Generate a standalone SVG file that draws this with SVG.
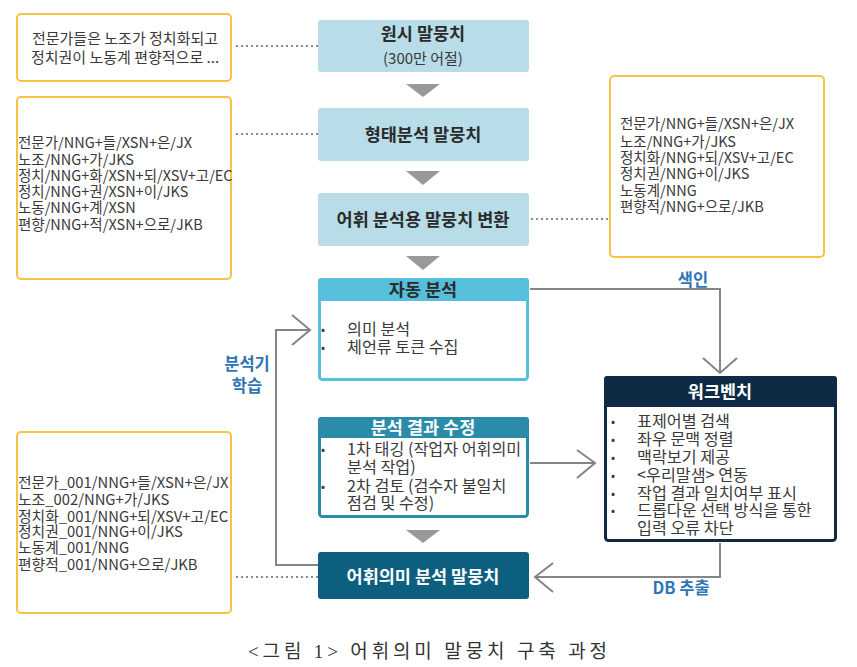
<svg xmlns="http://www.w3.org/2000/svg" width="857" height="667" viewBox="0 0 857 667">
<defs>
<style>
.t{font-family:"Noto Sans CJK KR","Noto Sans",sans-serif;fill:#3a3a3a}
.note{font-size:14.5px}
.note3{font-size:14.8px}
.top{font-size:15px}
.title{font-size:17.5px;font-weight:bold;fill:#2b2b2b}
.wt{font-size:17.5px;font-weight:bold;fill:#ffffff}
.body{font-size:16.2px}
.bul{font-size:12px}
.lbl{font-family:"Noto Sans CJK KR","Noto Sans",sans-serif;font-size:16.5px;font-weight:bold;fill:#2E75B6}
.obox{fill:#ffffff;stroke:#F8C246;stroke-width:2}
.lb{fill:#B8DDE8}
.tri{fill:#999999}
.dot{stroke:#8a8a8a;stroke-width:2;stroke-dasharray:2 3;fill:none}
.con{stroke:#858585;stroke-width:2;fill:none}
.cap{font-family:"Liberation Serif","Noto Sans CJK KR",serif;font-size:19px;fill:#333}
</style>
</defs>

<g id="connectors">
<line class="dot" x1="236" y1="46" x2="318" y2="46"/>
<line class="dot" x1="236" y1="134" x2="318" y2="134"/>
<line class="dot" x1="531" y1="219" x2="610" y2="219"/>
<line class="dot" x1="236" y1="577" x2="318" y2="577"/>
<polygon class="tri" points="406,84 440,84 423,97"/>
<polygon class="tri" points="406,171 440,171 423,185"/>
<polygon class="tri" points="406,256 440,256 423,270"/>
<polygon class="tri" points="406,530 440,530 423,543"/>
<polyline class="con" points="318,565 276,565 276,330 309,330"/>
<polyline class="con" points="292,315 310,330 292,345"/>
<polyline class="con" points="530,289 720,289 720,372"/>
<polyline class="con" points="703,358 720,373 737,358"/>
<line class="con" x1="530" y1="463" x2="595" y2="463"/>
<polyline class="con" points="577,450 595,463 577,478"/>
<polyline class="con" points="720,543 720,577 536,577"/>
<polyline class="con" points="553,563 535,577 553,592"/>
<text class="lbl" text-anchor="middle"><tspan x="247" y="370">분석기</tspan><tspan x="247" y="392">학습</tspan></text>
<text class="lbl" x="693" y="286" text-anchor="middle">색인</text>
<text class="lbl" x="681" y="594" text-anchor="middle">DB 추출</text>
</g>

<g id="note-raw">
<rect class="obox" x="17" y="14" width="214" height="67" rx="4"/>
<text class="t top" text-anchor="middle"><tspan x="125" y="44">전문가들은 노조가 정치화되고</tspan><tspan x="125" y="63">정치권이 노동계 편향적으로 ...</tspan></text>
</g>

<g id="note-morph">
<rect class="obox" x="17" y="97" width="214" height="182" rx="4"/>
<text class="t note"><tspan x="18" y="148">전문가/NNG+들/XSN+은/JX</tspan><tspan x="18" y="165">노조/NNG+가/JKS</tspan><tspan x="18" y="181">정치/NNG+화/XSN+되/XSV+고/EC</tspan><tspan x="18" y="197">정치/NNG+권/XSN+이/JKS</tspan><tspan x="18" y="213">노동/NNG+계/XSN</tspan><tspan x="18" y="230">편향/NNG+적/XSN+으로/JKB</tspan></text>
</g>

<g id="note-lex">
<rect class="obox" x="610" y="76" width="214" height="181" rx="4"/>
<text class="t note"><tspan x="620" y="129">전문가/NNG+들/XSN+은/JX</tspan><tspan x="620" y="147">노조/NNG+가/JKS</tspan><tspan x="620" y="163">정치화/NNG+되/XSV+고/EC</tspan><tspan x="620" y="179">정치권/NNG+이/JKS</tspan><tspan x="620" y="196">노동계/NNG</tspan><tspan x="620" y="212">편향적/NNG+으로/JKB</tspan></text>
</g>

<g id="note-sense">
<rect class="obox" x="17" y="432" width="214" height="181" rx="4"/>
<text class="t note3"><tspan x="18" y="488">전문가_001/NNG+들/XSN+은/JX</tspan><tspan x="18" y="505">노조_002/NNG+가/JKS</tspan><tspan x="18" y="522">정치화_001/NNG+되/XSV+고/EC</tspan><tspan x="18" y="537">정치권_001/NNG+이/JKS</tspan><tspan x="18" y="553">노동계_001/NNG</tspan><tspan x="18" y="570">편향적_001/NNG+으로/JKB</tspan></text>
</g>

<g id="raw-corpus">
<rect class="lb" x="318" y="20" width="211" height="52" rx="3"/>
<text class="t title" x="423" y="40" text-anchor="middle">원시 말뭉치</text>
<text class="t top" x="423" y="64" text-anchor="middle">(300만 어절)</text>
</g>

<g id="morph-corpus">
<rect class="lb" x="318" y="108" width="211" height="53" rx="3"/>
<text class="t title" x="423" y="141" text-anchor="middle">형태분석 말뭉치</text>
</g>

<g id="lex-convert">
<rect class="lb" x="318" y="193" width="211" height="53" rx="3"/>
<text class="t title" x="423" y="226" text-anchor="middle">어휘 분석용 말뭉치 변환</text>
</g>

<g id="auto-analysis">
<rect x="319.5" y="279.5" width="208" height="100" rx="3" fill="#ffffff" stroke="#56BFDB" stroke-width="3"/>
<rect x="318" y="278" width="211" height="23" rx="3" fill="#56BFDB"/>
<text class="t title" x="423" y="296" text-anchor="middle">자동 분석</text>
<text class="t bul"><tspan x="321" y="334">•</tspan><tspan x="321" y="352">•</tspan></text>
<text class="t body"><tspan x="347" y="335">의미 분석</tspan><tspan x="347" y="353">체언류 토큰 수집</tspan></text>
</g>

<g id="revise">
<rect x="319.5" y="418.5" width="208" height="98" rx="3" fill="#ffffff" stroke="#2A8CA8" stroke-width="3"/>
<rect x="318" y="417" width="211" height="21" rx="3" fill="#2A8CA8"/>
<text class="t wt" x="423" y="434" text-anchor="middle">분석 결과 수정</text>
<text class="t bul"><tspan x="321" y="454">•</tspan><tspan x="321" y="491">•</tspan></text>
<text class="t body"><tspan x="347" y="455">1차 태깅 (작업자 어휘의미</tspan><tspan x="347" y="473">분석 작업)</tspan><tspan x="347" y="492">2차 검토 (검수자 불일치</tspan><tspan x="347" y="509">점검 및 수정)</tspan></text>
</g>

<g id="sense-corpus">
<rect x="318" y="552" width="211" height="47" rx="3" fill="#0D5F80"/>
<text class="t wt" x="423" y="583" text-anchor="middle">어휘의미 분석 말뭉치</text>
</g>

<g id="workbench">
<rect x="605.5" y="377.5" width="230" height="163" rx="3" fill="#ffffff" stroke="#0E2A44" stroke-width="3"/>
<rect x="604" y="376" width="233" height="31" rx="3" fill="#0E2A44"/>
<text class="t wt" x="720" y="398" text-anchor="middle">워크벤치</text>
<text class="t bul"><tspan x="611" y="426">•</tspan><tspan x="611" y="444">•</tspan><tspan x="611" y="462">•</tspan><tspan x="611" y="480">•</tspan><tspan x="611" y="498">•</tspan><tspan x="611" y="515">•</tspan></text>
<text class="t body"><tspan x="637" y="427">표제어별 검색</tspan><tspan x="637" y="445">좌우 문맥 정렬</tspan><tspan x="637" y="463">맥락보기 제공</tspan><tspan x="637" y="481">&lt;우리말샘&gt; 연동</tspan><tspan x="637" y="499">작업 결과 일치여부 표시</tspan><tspan x="637" y="516">드롭다운 선택 방식을 통한</tspan><tspan x="637" y="534">입력 오류 차단</tspan></text>
</g>

<text class="cap" x="248" y="658" textLength="359" lengthAdjust="spacing">&lt;그림 1&gt; 어휘의미 말뭉치 구축 과정</text>
</svg>
